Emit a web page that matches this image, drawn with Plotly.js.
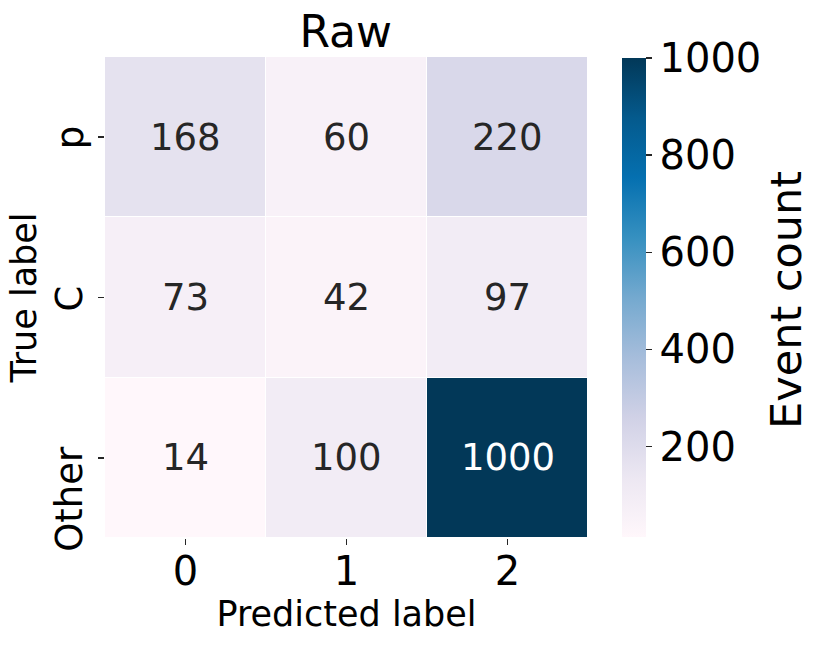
<!DOCTYPE html>
<html>
<head>
<meta charset="utf-8">
<script src="https://cdn.plot.ly/plotly-3.0.1.min.js"></script>
<style>
  html, body { margin: 0; padding: 0; background: #fff; }
  #plot { width: 830px; height: 652px; }
</style>
</head>
<body>
<div id="plot"></div>
<script>
// confusion matrix, raw counts
const predLabels = ['0', '1', '2'];
const trueLabels = ['p', 'C', 'Other'];
const counts = [
    [168, 60, 220],
    [73, 42, 97],
    [14, 100, 1000]
];
const colorbarTicks = [200, 400, 600, 800, 1000];

// matplotlib PuBu
const puBu = ['#fff7fb', '#ece7f2', '#d0d1e6', '#a6bddb', '#74a9cf', '#3690c0', '#0570b0', '#045a8d', '#023858'];
const colorscale = puBu.map((c, i) => [i / (puBu.length - 1), c]);

const font = 'DejaVu Sans, sans-serif';

const trace = {
    type: 'heatmap',
    x: predLabels,
    y: trueLabels,
    z: counts,
    zmin: 14,
    zmax: 1000,
    colorscale: colorscale,
    xgap: 1,
    ygap: 1,
    hoverinfo: 'none',
    colorbar: {
        x: 1.07,
        xanchor: 'left',
        xpad: 0,
        ypad: 0,
        y: 0.5,
        yanchor: 'middle',
        len: 0.995,
        thickness: 24,
        outlinewidth: 0,
        tickvals: colorbarTicks,
        ticks: 'outside',
        ticklen: 6,
        tickwidth: 1.5,
        tickcolor: '#262626',
        tickfont: { family: font, size: 40, color: '#000' }
    }
};

// cell labels
const annotations = [];
for (let i = 0; i < trueLabels.length; i++) {
    for (let j = 0; j < predLabels.length; j++) {
        const v = counts[i][j];
        annotations.push({
            x: predLabels[j],
            y: trueLabels[i],
            text: String(v),
            showarrow: false,
            font: { family: font, size: 37, color: v > 500 ? '#ffffff' : '#262626' }
        });
    }
}

// rotated y tick labels, aligned like matplotlib (end of text near the tick)
trueLabels.forEach(lab => {
    annotations.push({
        xref: 'paper', yref: 'y',
        x: -0.0725, y: lab,
        xanchor: 'center', yanchor: 'top',
        yshift: 14,
        text: lab,
        textangle: -90,
        showarrow: false,
        font: { family: font, size: 37, color: '#000' }
    });
});

// colorbar label
annotations.push({
    xref: 'paper', yref: 'paper',
    x: 1.41, y: 0.495,
    xanchor: 'center', yanchor: 'middle',
    text: 'Event count',
    textangle: -90,
    showarrow: false,
    font: { family: font, size: 43, color: '#000' }
});

const layout = {
    width: 830,
    height: 652,
    margin: { l: 105, r: 242, t: 57, b: 114 },
    paper_bgcolor: '#fff',
    plot_bgcolor: '#fff',
    title: { text: 'Raw', x: 0.4165, xanchor: 'center', y: 0.952, yanchor: 'middle', font: { family: font, size: 44, color: '#000' } },
    xaxis: {
        type: 'category',
        showgrid: false,
        zeroline: false,
        ticks: 'outside',
        ticklen: 6,
        tickwidth: 1.5,
        tickcolor: '#262626',
        ticklabelstandoff: -8,
        tickfont: { family: font, size: 40, color: '#000' },
        title: { text: 'Predicted label', standoff: 0, font: { family: font, size: 35, color: '#000' } }
    },
    yaxis: {
        type: 'category',
        categoryorder: 'array',
        categoryarray: trueLabels,
        autorange: 'reversed',
        showgrid: false,
        zeroline: false,
        ticks: 'outside',
        ticklen: 6,
        tickwidth: 1.5,
        tickcolor: '#262626',
        showticklabels: false,
        title: { text: 'True label', standoff: 50, font: { family: font, size: 35, color: '#000' } }
    },
    annotations: annotations
};

Plotly.newPlot('plot', [trace], layout, { displayModeBar: false, staticPlot: true });
</script>
</body>
</html>
